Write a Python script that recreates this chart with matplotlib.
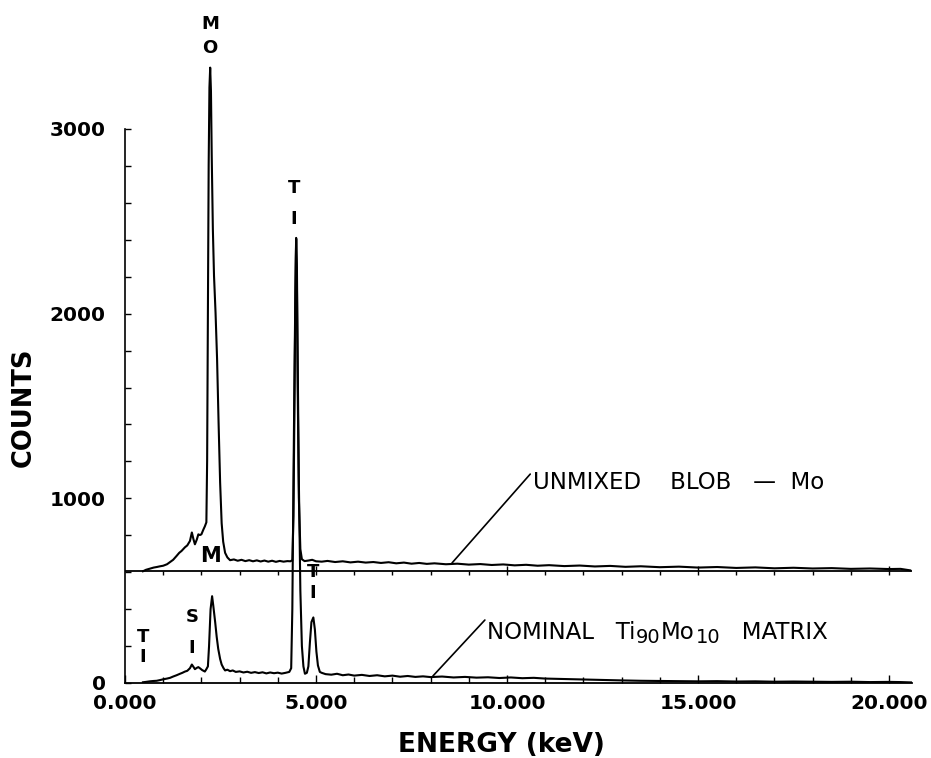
import numpy as np
import matplotlib
matplotlib.use("Agg")
import matplotlib.pyplot as plt

# EDS spectra (energy in keV, counts)
# lower trace: nominal Ti90Mo10 matrix
matrix_e = [0.47, 0.55, 0.65, 0.75, 0.83, 0.92, 1.0, 1.1, 1.18, 1.26,
            1.35, 1.44, 1.5, 1.57, 1.63, 1.7, 1.75, 1.79, 1.83, 1.88,
            1.92, 1.96, 2.02, 2.09, 2.13, 2.17, 2.20, 2.24, 2.28, 2.31,
            2.36, 2.40, 2.44, 2.49, 2.53, 2.58, 2.62, 2.68, 2.75, 2.82,
            2.9, 3.0, 3.1, 3.2, 3.3, 3.4, 3.5, 3.6, 3.7, 3.8,
            3.9, 4.0, 4.1, 4.2, 4.3, 4.35, 4.38, 4.41, 4.44, 4.47,
            4.48, 4.50, 4.52, 4.55, 4.59, 4.63, 4.67, 4.71, 4.76, 4.80,
            4.84, 4.88, 4.93, 4.97, 5.01, 5.05, 5.10, 5.15, 5.25, 5.4,
            5.55, 5.7, 5.85, 6.0, 6.2, 6.4, 6.6, 6.8, 7.0, 7.2,
            7.4, 7.6, 7.8, 8.0, 8.3, 8.6, 8.9, 9.2, 9.5, 9.8,
            10.1, 10.4, 10.7, 11.0, 11.4, 11.8, 12.2, 12.6, 13.0, 13.5,
            14.0, 14.5, 15.0, 15.5, 16.0, 16.5, 17.0, 17.5, 18.0, 18.5,
            19.0, 19.5, 20.0, 20.3, 20.6]
matrix_c = [4, 6, 9, 11, 12, 16, 20, 24, 28, 35,
            42, 50, 55, 62, 66, 80, 100, 88, 75, 82,
            86, 80, 70, 62, 75, 90, 200, 400, 470, 420,
            330, 250, 185, 130, 100, 80, 68, 72, 64, 68,
            60, 63, 57, 61, 55, 59, 54, 58, 52, 57,
            53, 56, 51, 55, 60, 80, 400, 1100, 1750, 2300,
            2410, 2250, 1750, 1100, 500, 200, 90, 50, 55, 90,
            220, 330, 355, 290, 170, 95, 60, 55, 48, 45,
            50, 42, 46, 40, 44, 38, 42, 36, 40, 34,
            38, 33, 36, 32, 35, 30, 33, 29, 31, 27,
            30, 26, 28, 24, 22, 20, 18, 16, 14, 12,
            11, 10, 9, 10, 8, 9, 7, 8, 7, 6,
            7, 5, 6, 5, 3]

# upper trace: unmixed Mo blob (counts above its own offset baseline)
blob_offset = 605
blob_e = [0.47, 0.55, 0.65, 0.75, 0.83, 0.92, 1.0, 1.1, 1.18, 1.26,
          1.35, 1.42, 1.48, 1.57, 1.63, 1.70, 1.75, 1.79, 1.83, 1.88,
          1.92, 1.96, 2.00, 2.05, 2.09, 2.13, 2.15, 2.17, 2.19, 2.21,
          2.23, 2.25, 2.27, 2.30, 2.33, 2.37, 2.41, 2.45, 2.49, 2.53,
          2.57, 2.62, 2.68, 2.75, 2.85, 2.95, 3.05, 3.15, 3.25, 3.35,
          3.45, 3.55, 3.65, 3.75, 3.85, 3.95, 4.05, 4.15, 4.25, 4.33,
          4.38, 4.41, 4.44, 4.46, 4.48, 4.50, 4.52, 4.55, 4.59, 4.63,
          4.7, 4.8, 4.9, 5.0, 5.15, 5.3, 5.5, 5.7, 5.9, 6.1,
          6.3, 6.5, 6.7, 6.9, 7.1, 7.3, 7.5, 7.7, 7.9, 8.1,
          8.4, 8.7, 9.0, 9.3, 9.6, 9.9, 10.2, 10.5, 10.8, 11.1,
          11.5, 11.9, 12.3, 12.7, 13.1, 13.5, 14.0, 14.5, 15.0, 15.5,
          16.0, 16.5, 17.0, 17.5, 18.0, 18.5, 19.0, 19.5, 20.0, 20.3,
          20.55]
blob_c = [0, 8, 14, 20, 23, 27, 30, 38, 50, 62,
          83, 100, 110, 130, 140, 164, 210, 175, 146, 172,
          200, 196, 200, 225, 243, 265, 600, 1400, 2200, 2620,
          2727, 2600, 2250, 1850, 1600, 1400, 1150, 800, 480, 260,
          160, 100, 75, 60, 64, 57, 62, 55, 60, 54,
          59, 53, 58, 52, 57, 51, 56, 52, 55, 54,
          60, 300, 1000, 1500, 1800, 1550, 1000, 400, 120, 65,
          55, 58, 62, 54, 52, 56, 50, 54, 48, 52,
          47, 50, 45, 49, 43, 47, 41, 45, 40, 43,
          38, 41, 36, 39, 34, 37, 32, 35, 30, 33,
          28, 31, 26, 29, 24, 27, 22, 25, 20, 23,
          18, 21, 16, 19, 15, 17, 13, 15, 12, 13,
          5]

x_max = 20.6
y_major = [0, 1000, 2000, 3000]
x_major = [0, 5, 10, 15, 20]

fig = plt.figure(figsize=(9.31, 7.58), dpi=100)
ax = fig.add_axes([125 / 931, 75 / 758, 787 / 931, 673 / 758])

ax.plot(matrix_e, matrix_c, color="black", lw=1.5)
ax.plot(blob_e, np.array(blob_c) + blob_offset, color="black", lw=1.5)

# offset baseline of the upper trace with its own little ticks
ax.plot([0, x_max], [blob_offset, blob_offset], color="black", lw=1.3)
ax.vlines(np.arange(1, 21), blob_offset - 22, blob_offset, color="black", lw=1)
ax.vlines(np.arange(5, 21, 5), blob_offset, blob_offset + 30, color="black", lw=1)

ax.set_xlim(0, x_max)
ax.set_ylim(0, 3644)
for s in ["top", "right"]:
    ax.spines[s].set_visible(False)
ax.spines["left"].set_bounds(0, 3000)
ax.spines["left"].set_linewidth(1.2)
ax.spines["bottom"].set_linewidth(1.3)

ax.set_yticks(y_major)
ax.set_yticks(np.arange(0, 3001, 200), minor=True)
ax.set_xticks(x_major)
ax.set_xticks(np.arange(0, 21, 1), minor=True)
ax.set_xticklabels(["%.3f" % v for v in x_major])
ax.tick_params(axis="y", which="both", direction="in", pad=14, labelsize=14.5)
ax.tick_params(axis="y", which="major", length=4, width=1)
ax.tick_params(axis="y", which="minor", length=4, width=1)
ax.tick_params(axis="x", which="major", direction="in", length=6, width=1, pad=8, labelsize=14.5)
ax.tick_params(axis="x", which="minor", direction="in", length=4, width=1)
for lab in ax.get_xticklabels() + ax.get_yticklabels():
    lab.set_fontweight("bold")

ax.set_xlabel("ENERGY (keV)", fontsize=19, fontweight="bold", va="center")
ax.xaxis.set_label_coords(0.478, -0.092)
ax.set_ylabel("COUNTS", fontsize=18.5, fontweight="bold", va="center", ha="center")
ax.yaxis.set_label_coords(-0.129, 0.409)

# peak labels
pk = dict(fontsize=13, fontweight="bold", ha="center", va="center")
ax.text(2.23, 3570, "M", **pk)
ax.text(2.23, 3440, "O", **pk)
ax.text(4.42, 2680, "T", **pk)
ax.text(4.42, 2515, "I", **pk)
ax.text(2.25, 690, "M", fontsize=15, fontweight="heavy", ha="center", va="center")
ax.text(4.92, 600, "T", **pk)
ax.text(4.92, 490, "I", **pk)
ax.text(0.47, 250, "T", **pk)
ax.text(0.47, 140, "I", **pk)
ax.text(1.75, 355, "S", **pk)
ax.text(1.75, 190, "I", **pk)

# leader-line captions
line = dict(arrowstyle="-", color="black", lw=1.2, shrinkA=0, shrinkB=0, relpos=(0, 1))
ax.annotate("UNMIXED    BLOB   \u2014  Mo", xy=(8.56, 650), xytext=(10.68, 1086),
            fontsize=16.5, ha="left", va="center", arrowprops=line)

ax.annotate("", xy=(8.06, 38), xytext=(9.42, 341),
            arrowprops=dict(arrowstyle="-", color="black", lw=1.2, shrinkA=0, shrinkB=0))
t = ax.text(9.47, 240, "NOMINAL   Ti", fontsize=16.5, ha="left", va="baseline")
# Ti90Mo10 written piece by piece, subscripts nearly full size as in the original
t = ax.annotate("90", xy=(1, 0), xycoords=t, xytext=(0.5, -2.5),
                textcoords="offset points", fontsize=14, ha="left", va="bottom")
t = ax.annotate("Mo", xy=(1, 0), xycoords=t, xytext=(0.5, 2.5),
                textcoords="offset points", fontsize=16.5, ha="left", va="bottom")
t = ax.annotate("10", xy=(1, 0), xycoords=t, xytext=(0.5, -2.5),
                textcoords="offset points", fontsize=14, ha="left", va="bottom")
ax.annotate("   MATRIX", xy=(1, 0), xycoords=t, xytext=(0, 2.5),
            textcoords="offset points", fontsize=16.5, ha="left", va="bottom")

fig.savefig("out.png", dpi=100)
